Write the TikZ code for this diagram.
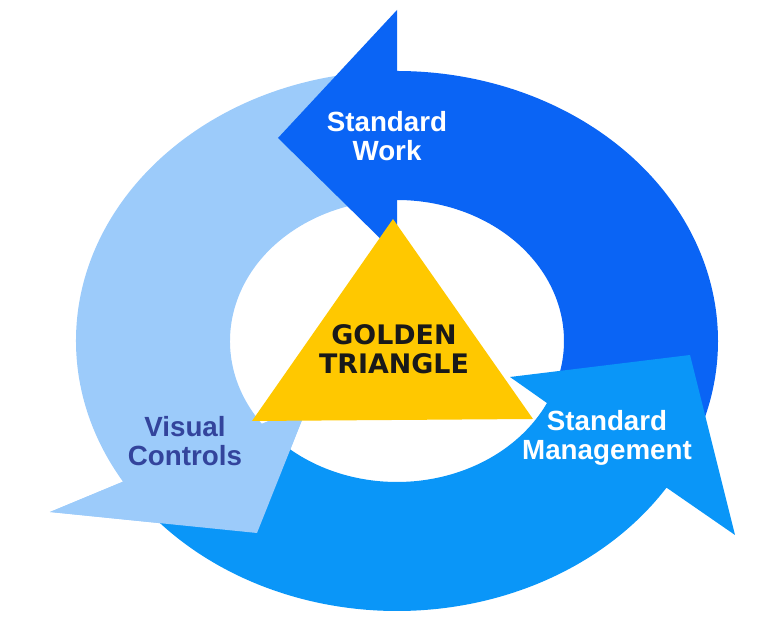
\documentclass[tikz,border=0pt]{standalone}
\usepackage{fontspec}
\setmainfont{Liberation Sans}
\newfontfamily\widefont{DejaVu Sans}
\usepackage{xcolor}
\usepackage{tikz}

\definecolor{swblue}{HTML}{0A64F5}
\definecolor{smblue}{HTML}{0A96F8}
\definecolor{vcblue}{HTML}{9CCBFA}
\definecolor{gold}{HTML}{FFC800}
\definecolor{vctext}{HTML}{33449C}

\begin{document}
\begin{tikzpicture}[x=0.02cm, y=0.02cm]
  % Styles
  \tikzstyle{swarrow}=[fill=swblue]
  \tikzstyle{smarrow}=[fill=smblue]
  \tikzstyle{vcarrow}=[fill=vcblue]
  \tikzstyle{lab}=[align=center, inner sep=0pt, font=\bfseries\fontsize{15.8}{16.5}\selectfont]

  \useasboundingbox (-397,-293) rectangle (360,341);

  % Visual Controls arrow (light)
  \fill[vcarrow] (93:321 and 270) arc[start angle=93, end angle=211.4, x radius=321, y radius=270]
    -- (-347,-171) -- (-140,-192) -- (-89,-64) -- (216:167 and 141)
    arc[start angle=216, end angle=93, x radius=167, y radius=141] -- cycle;

  % Standard Work arrow (dark)
  \fill[swarrow] (-18:321 and 270) arc[start angle=-18, end angle=90, x radius=321, y radius=270]
    -- (0,331) -- (-119,203) -- (0,86) -- (90:167 and 141)
    arc[start angle=90, end angle=-18, x radius=167, y radius=141] -- cycle;

  % Standard Management arrow (medium)
  \fill[smarrow] (216:321 and 270) arc[start angle=216, end angle=327.1, x radius=321, y radius=270]
    -- (338,-194) -- (293,-14) -- (113,-36) -- (333.9:167 and 141)
    arc[start angle=333.9, end angle=222, x radius=167, y radius=141] -- cycle;

  % head of the light arrow again, over the tail of the medium one
  \fill[vcarrow] (211.4:321 and 270) -- (-347,-171) -- (-140,-192) -- (-89,-64)
    -- (216:167 and 141) -- cycle;

  % Golden triangle
  \coordinate (gt_top) at (-4,122);
  \coordinate (gt_left) at (-145,-80);
  \coordinate (gt_right) at (136,-78);
  \fill[gold] (gt_top) -- (gt_left) -- (gt_right) -- cycle;

  \node[lab, font=\widefont\bfseries\fontsize{15.3}{16.5}\selectfont, text=black!90] (gt_lab) at (-3,-8) {GOLDEN\\TRIANGLE};
  \node[lab, text=white] (sw_lab) at (-10,205) {Standard\\Work};
  \node[lab, text=white] (sm_lab) at (210,-97) {Standard\\Management};
  \node[lab, text=vctext] (vc_lab) at (-212,-100) {Visual\\Controls};
\end{tikzpicture}
\end{document}
